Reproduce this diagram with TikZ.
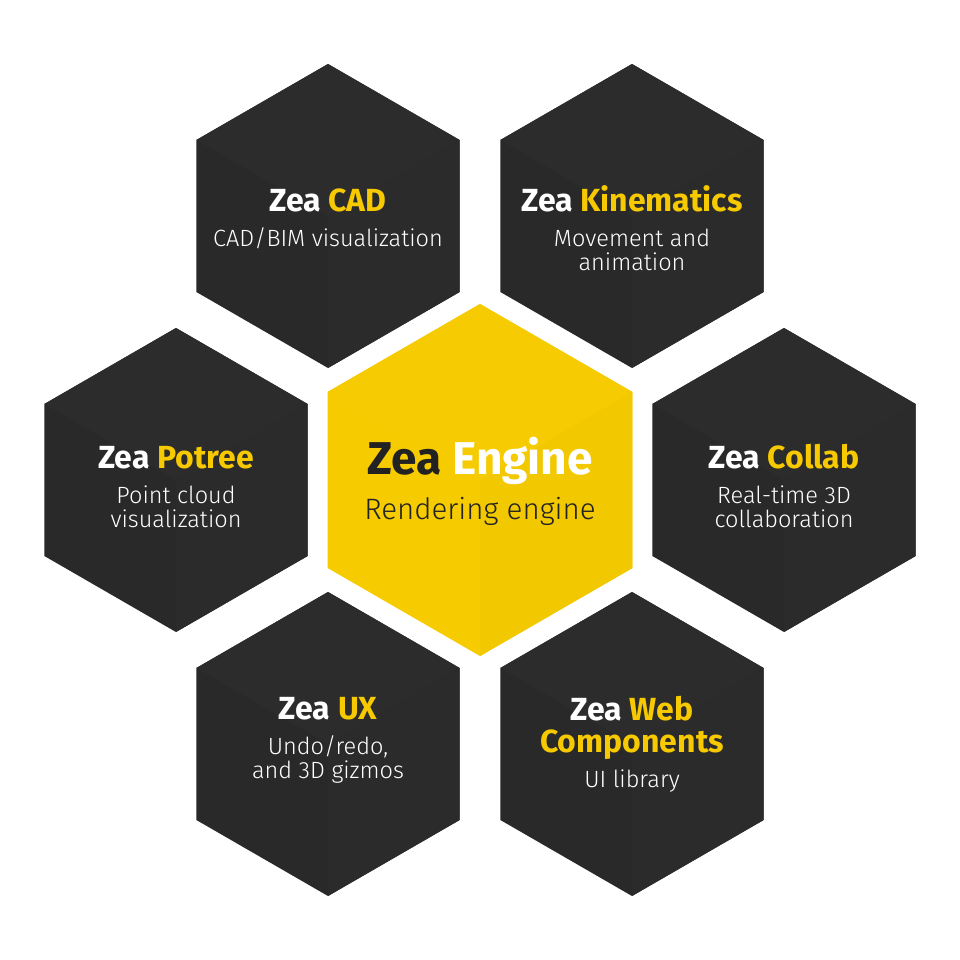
\documentclass[tikz,border=0pt]{standalone}
\usepackage{fontspec}
\setmainfont{Fira Sans}[UprightFont=* Light, BoldFont=* Bold]
\definecolor{zyellow}{HTML}{F6C900}
\definecolor{hexY}{HTML}{F6CB00}
\definecolor{hexYtop}{HTML}{F6CB01}
\definecolor{hexYright}{HTML}{F2C800}
\definecolor{hexD}{HTML}{292929}
\definecolor{hexDtop}{HTML}{2C2C2C}
\definecolor{hexDright}{HTML}{2B2B2B}
\definecolor{zdark}{HTML}{222222}
\newcommand\hexcell[6]{%
  \pgfmathsetmacro\hw{0.8660254*#3}%
  \pgfmathsetmacro\hh{0.5*#3}%
  \fill[#5] (#1,#2-#3) -- (#1-\hw,#2-\hh) -- (#1-\hw,#2+\hh) -- (#1,#2+#3) -- (#1+\hw,#2+\hh) -- (#1+\hw,#2-\hh) -- cycle;
  \fill[#4] (#1,#2-#3) -- (#1-\hw,#2-\hh) -- (#1,#2) -- (#1+\hw,#2-\hh) -- cycle;
  \fill[#6] (#1+\hw,#2-\hh) -- (#1,#2) -- (#1,#2+#3) -- (#1+\hw,#2+\hh) -- cycle;
}
\begin{document}
\begin{tikzpicture}[x=1pt,y=-1pt,
  title/.style={font=\bfseries\fontsize{32}{32}\selectfont, text=white, inner sep=0pt, anchor=base},
  sub/.style={font=\fontsize{23.5}{24}\selectfont, text=white, inner sep=0pt, anchor=base},
  bigtitle/.style={font=\bfseries\fontsize{46}{46}\selectfont, text=white, inner sep=0pt, anchor=base},
  bigsub/.style={font=\fontsize{29.5}{30}\selectfont, text=zdark, inner sep=0pt, anchor=base}]
\useasboundingbox[fill=white] (0,0) rectangle (960,960);
% outer dark cells
\hexcell{328}{216}{152}{hexDtop}{hexD}{hexDright}
\hexcell{632}{216}{152}{hexDtop}{hexD}{hexDright}
\hexcell{176}{480}{152}{hexDtop}{hexD}{hexDright}
\hexcell{784}{480}{152}{hexDtop}{hexD}{hexDright}
\hexcell{328}{744}{152}{hexDtop}{hexD}{hexDright}
\hexcell{632}{744}{152}{hexDtop}{hexD}{hexDright}
% centre cell
\hexcell{480}{480}{176}{hexYtop}{hexY}{hexYright}
% texts
\node[title] (cadT) at (328,211) {Zea \textcolor{zyellow}{CAD}};
\node[sub] (cadS) at (328,246) {CAD/BIM visualization};
\node[title] (kinT) at (632,211) {Zea \textcolor{zyellow}{Kinematics}};
\node[sub] (kinS1) at (632,246) {Movement and};
\node[sub] (kinS2) at (632,270) {animation};
\node[title] (potT) at (176,468) {Zea \textcolor{zyellow}{Potree}};
\node[sub] (potS1) at (176,503) {Point cloud};
\node[sub] (potS2) at (176,527) {visualization};
\node[title] (colT) at (784,468) {Zea \textcolor{zyellow}{Collab}};
\node[sub] (colS1) at (784,503) {Real-time 3D};
\node[sub] (colS2) at (784,527) {collaboration};
\node[title] (uxT) at (328,719) {Zea \textcolor{zyellow}{UX}};
\node[sub] (uxS1) at (328,754) {Undo/redo,};
\node[sub] (uxS2) at (328,778) {and 3D gizmos};
\node[title] (webT1) at (632,720) {Zea \textcolor{zyellow}{Web}};
\node[title, text=zyellow] (webT2) at (632,752) {Components};
\node[sub] (webS) at (632,787) {UI library};
\node[bigtitle] (engT) at (480,474) {\textcolor{zdark}{Zea} Engine};
\node[bigsub] (engS) at (480,519) {Rendering engine};
\end{tikzpicture}
\end{document}
